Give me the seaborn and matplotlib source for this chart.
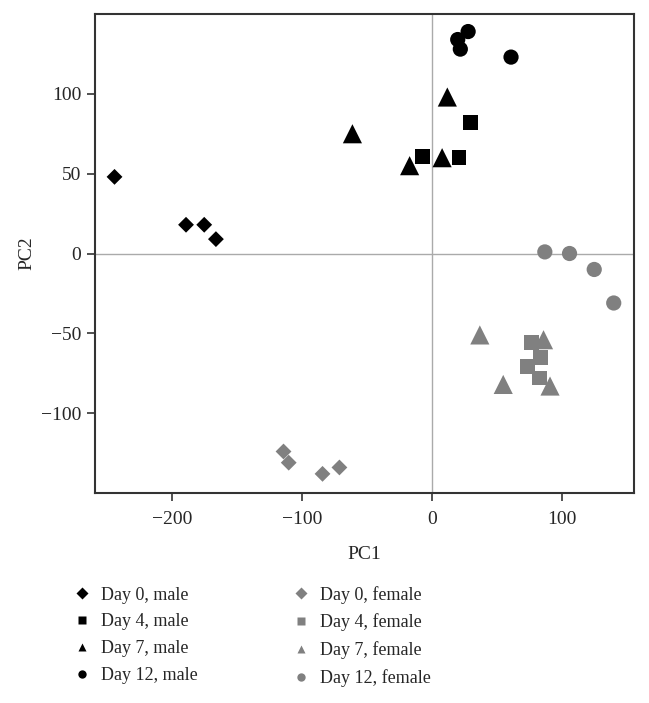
import pandas as pd
import matplotlib
import matplotlib.pyplot as plt
import seaborn as sns

matplotlib.use("Agg")

# PCA scores
groups = ["Day 0, male", "Day 4, male", "Day 7, male", "Day 12, male",
          "Day 0, female", "Day 4, female", "Day 7, female", "Day 12, female"]

pc1 = {
    "Day 0, male": [-244, -189, -175, -166],
    "Day 4, male": [30, -7, 21],
    "Day 7, male": [12, -61, -17, 8],
    "Day 12, male": [28, 20, 22, 61],
    "Day 0, female": [-114, -110, -84, -71],
    "Day 4, female": [77, 84, 74, 83],
    "Day 7, female": [37, 86, 55, 91],
    "Day 12, female": [87, 106, 125, 140],
}
pc2 = {
    "Day 0, male": [48, 18, 18, 9],
    "Day 4, male": [82, 61, 60],
    "Day 7, male": [98, 75, 55, 60],
    "Day 12, male": [139, 134, 128, 123],
    "Day 0, female": [-124, -131, -138, -134],
    "Day 4, female": [-56, -65, -71, -78],
    "Day 7, female": [-51, -54, -82, -83],
    "Day 12, female": [1, 0, -10, -31],
}

colors = {g: ("black" if "female" not in g else "#808080") for g in groups}
markers = dict(zip(groups, ["D", "s", "^", "o"] * 2))
msizes = dict(zip(groups, [65, 115, 190, 120] * 2))

rows = []
for g in groups:
    for x, y in zip(pc1[g], pc2[g]):
        rows.append({"PC1": x, "PC2": y, "group": g})
df = pd.DataFrame(rows)

sns.set_style("ticks")
plt.rcParams["font.family"] = ["Liberation Serif", "DejaVu Serif"]

fig = plt.figure(figsize=(6.49, 7.03), dpi=100)
ax = fig.add_axes([0.1464, 0.2987, 0.8305, 0.6814])

ax.axhline(0, color="#aaaaaa", lw=1, zorder=0)
ax.axvline(0, color="#aaaaaa", lw=1, zorder=0)

sns.scatterplot(data=df, x="PC1", y="PC2", hue="group", style="group",
                size="group", hue_order=groups, style_order=groups,
                size_order=groups, sizes=msizes,
                palette=colors, markers=markers,
                edgecolor="none", ax=ax)

ax.set_xlim(-259, 155.6)
ax.set_ylim(-150, 150)
ax.set_xticks([-200, -100, 0, 100])
ax.set_yticks([-100, -50, 0, 50, 100])
ax.tick_params(labelsize=14, length=6, width=1.2, color="#333333", pad=4)
ax.tick_params(axis="x", pad=7)
for sp in ax.spines.values():
    sp.set_color("#333333")
    sp.set_linewidth(1.5)
ax.set_xlabel("PC1", fontsize=14, labelpad=13)
ax.set_ylabel("PC2", fontsize=14, labelpad=4)

handles, labels = ax.get_legend_handles_labels()
ax.get_legend().remove()
for h in handles:
    h.set_markersize(6)
fig.legend(handles, labels, ncol=2, loc="upper left",
           bbox_to_anchor=(0.08, 0.19), frameon=False, fontsize=13,
           handletextpad=0.3, handlelength=1.5,
           columnspacing=5.0, labelspacing=0.55)

fig.savefig("out.png", dpi=100)
